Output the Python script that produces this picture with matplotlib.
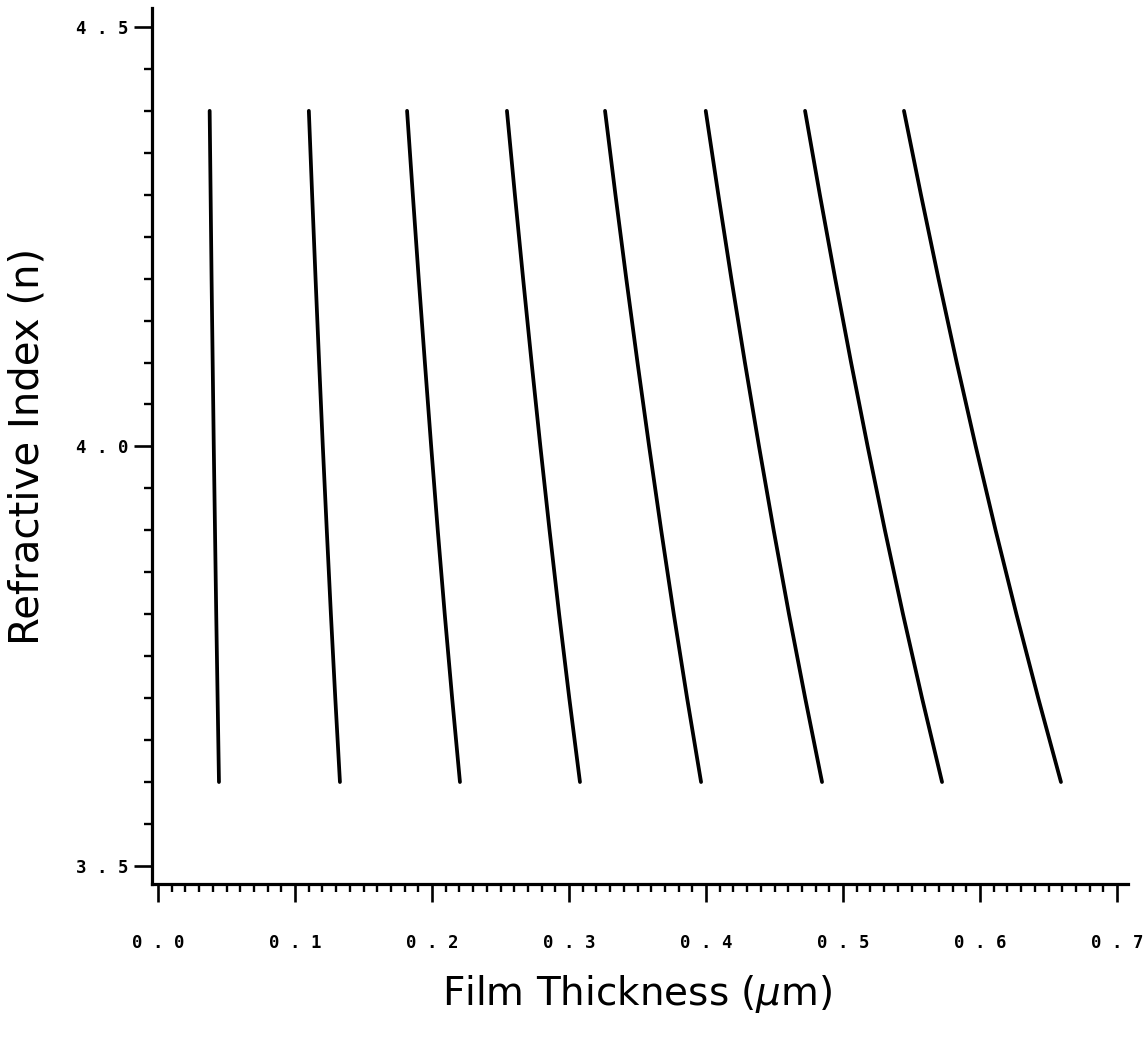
import numpy as np
import matplotlib
matplotlib.use("Agg")
import matplotlib.pyplot as plt
from matplotlib.ticker import MultipleLocator

# refractive index levels at which the fringe curves were read
n_levels = [4.4, 4.3, 4.2, 4.1, 4.0, 3.9, 3.8, 3.7, 3.6]

# film thickness (um) for each fringe order, one value per n level
order1 = [0.0377, 0.0384, 0.0391, 0.0399, 0.0407, 0.0416, 0.0425, 0.0435, 0.0445]
order2 = [0.1101, 0.1125, 0.1150, 0.1176, 0.1203, 0.1232, 0.1262, 0.1294, 0.1328]
order3 = [0.1818, 0.1860, 0.1903, 0.1948, 0.1994, 0.2042, 0.2093, 0.2147, 0.2204]
order4 = [0.2547, 0.2605, 0.2665, 0.2727, 0.2791, 0.2858, 0.2928, 0.3002, 0.3080]
order5 = [0.3263, 0.3339, 0.3418, 0.3500, 0.3585, 0.3673, 0.3765, 0.3862, 0.3964]
order6 = [0.3998, 0.4090, 0.4185, 0.4284, 0.4387, 0.4494, 0.4606, 0.4724, 0.4847]
order7 = [0.4723, 0.4831, 0.4943, 0.5059, 0.5180, 0.5306, 0.5438, 0.5577, 0.5723]
order8 = [0.5445, 0.5569, 0.5697, 0.5830, 0.5969, 0.6114, 0.6266, 0.6425, 0.6591]

x_ticks = [0.0, 0.1, 0.2, 0.3, 0.4, 0.5, 0.6, 0.7]
y_ticks = [3.5, 4.0, 4.5]

fig = plt.figure(figsize=(11.47, 10.38), dpi=100)
ax = fig.add_axes([0.1325, 0.1484, 0.8509, 0.8439])

for d in [order1, order2, order3, order4, order5, order6, order7, order8]:
    ax.plot(d, n_levels, color='black', linewidth=2.7, solid_capstyle='round',
            solid_joinstyle='round')

ax.set_xlim(-0.0044, 0.708)
ax.set_ylim(3.4785, 4.5226)

for side in ['top', 'right']:
    ax.spines[side].set_visible(False)
for side in ['left', 'bottom']:
    ax.spines[side].set_linewidth(2.3)

ax.set_xticks(x_ticks)
ax.set_xticklabels([' . '.join(f'{v:.1f}'.split('.')) for v in x_ticks])
ax.set_yticks(y_ticks)
ax.set_yticklabels([' . '.join(f'{v:.1f}'.split('.')) for v in y_ticks])
ax.xaxis.set_minor_locator(MultipleLocator(0.01))
ax.yaxis.set_minor_locator(MultipleLocator(0.05))

ax.tick_params(axis='both', which='major', direction='out', length=13, width=1.9,
               color='black')
ax.tick_params(axis='both', which='minor', direction='out', length=6, width=1.7,
               color='black')
ax.tick_params(axis='x', which='major', pad=23)
ax.tick_params(axis='y', which='major', pad=4)
for lab in ax.get_xticklabels() + ax.get_yticklabels():
    lab.set_fontfamily('DejaVu Sans Mono')
    lab.set_fontweight('bold')
    lab.set_fontsize(12.5)

ax.set_xlabel(r'Film Thickness ($\mu$m)', fontsize=28, family='DejaVu Sans')
ax.xaxis.set_label_coords(0.497, -0.102)
ax.set_ylabel('Refractive Index (n)', fontsize=29, family='DejaVu Sans')
ax.yaxis.set_label_coords(-0.107, 0.5)

fig.savefig('out.png', dpi=100, facecolor='white')
